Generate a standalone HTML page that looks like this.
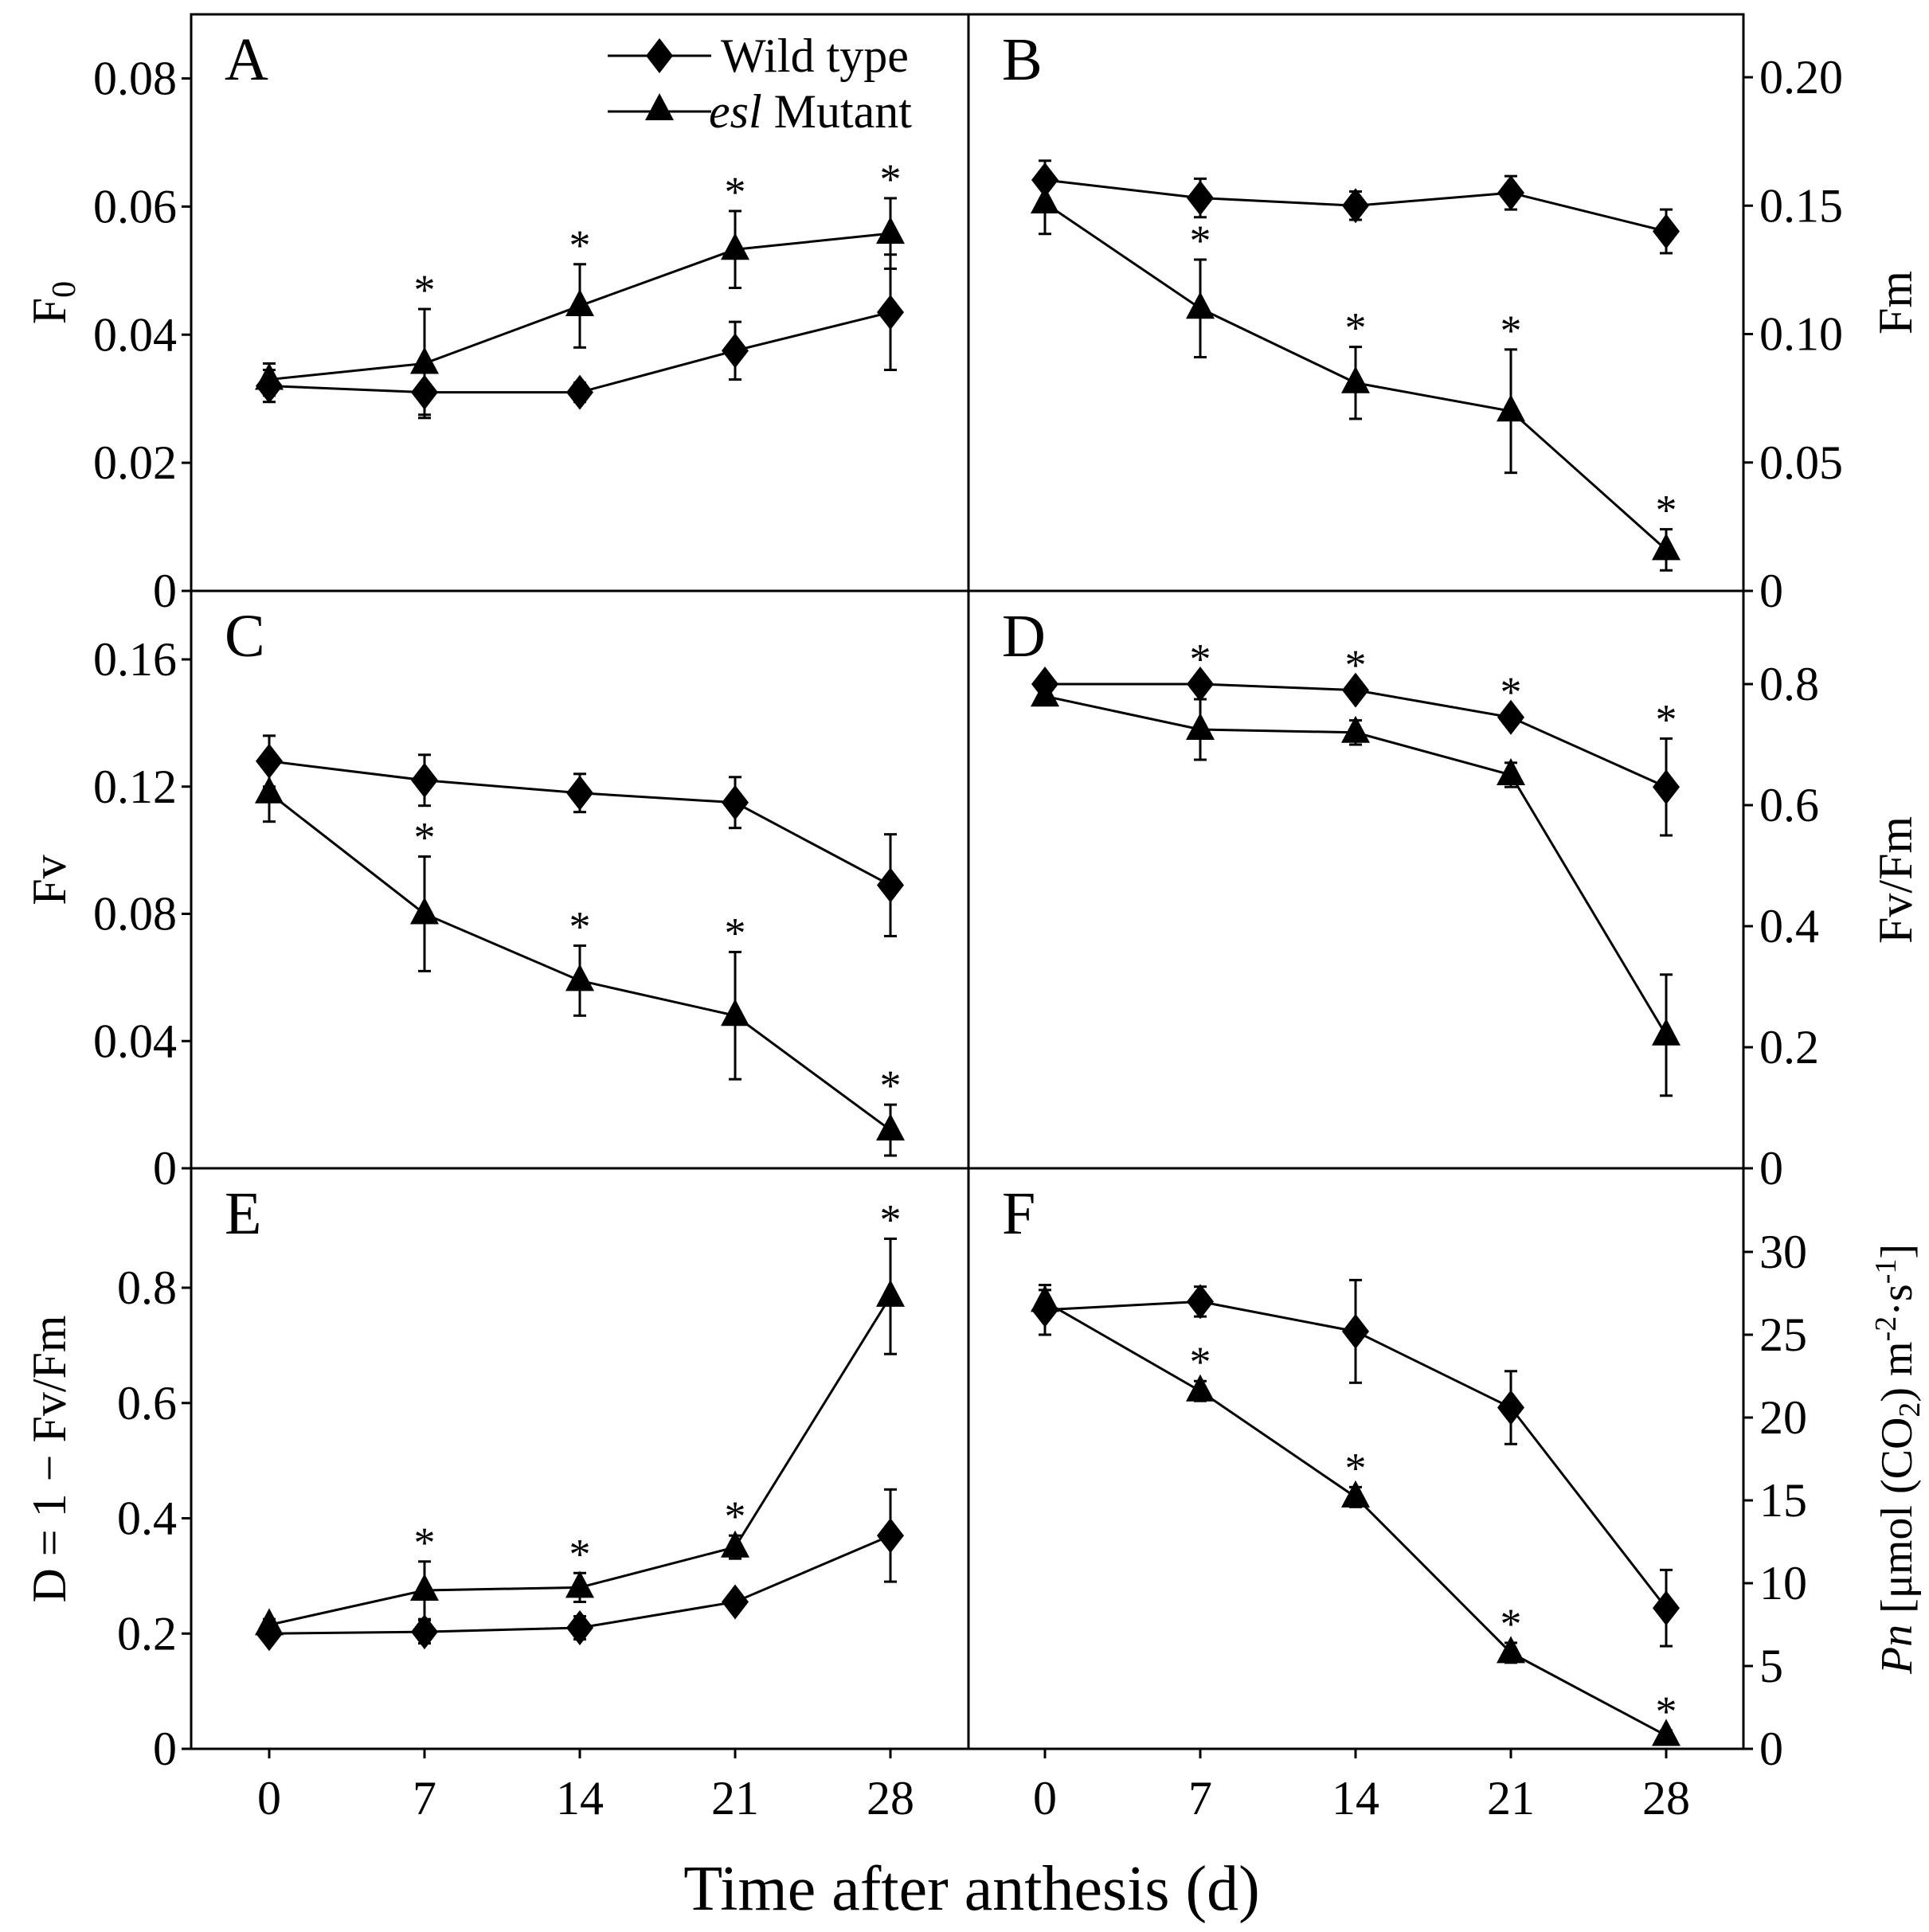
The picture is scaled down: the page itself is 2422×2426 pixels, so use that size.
<!DOCTYPE html>
<html><head><meta charset="utf-8"><style>
body{margin:0;background:#fff}
svg{display:block;font-family:"Liberation Serif",serif}
</style></head><body>
<svg id="chart" width="2422" height="2426" viewBox="0 0 2422 2426" xmlns="http://www.w3.org/2000/svg"></svg>
<script>
const days=[0,7,14,21,28];
const aWT=[0.032,0.031,0.031,0.0375,0.0435], aWTe=[0.0025,0.0035,0.0015,0.0045,0.009];
const aMU=[0.033,0.0355,0.0445,0.0533,0.0558], aMUe=[0.0025,0.0085,0.0065,0.006,0.0055];
const bWT=[0.160,0.153,0.150,0.155,0.140], bWTe=[0.0075,0.0075,0.0055,0.0065,0.0085];
const bMU=[0.151,0.110,0.081,0.070,0.016], bMUe=[0.012,0.019,0.014,0.024,0.008];
const cWT=[0.128,0.122,0.118,0.115,0.089], cWTe=[0.008,0.008,0.006,0.008,0.016];
const cMU=[0.118,0.080,0.059,0.048,0.012], cMUe=[0.009,0.018,0.011,0.020,0.008];
const dWT=[0.80,0.80,0.79,0.745,0.63], dWTe=[0.01,0.01,0.01,0.01,0.08];
const dMU=[0.78,0.725,0.72,0.65,0.22], dMUe=[0.01,0.05,0.02,0.02,0.1];
const eWT=[0.20,0.203,0.21,0.255,0.37], eWTe=[0.01,0.02,0.02,0.01,0.08];
const eMU=[0.215,0.275,0.28,0.35,0.785], eMUe=[0.01,0.05,0.025,0.02,0.1];
const fWT=[26.5,27,25.2,20.6,8.5], fWTe=[1.5,0.9,3.1,2.2,2.3];
const fMU=[27,21.6,15.2,5.8,0.8], fMUe=[0.7,0.6,0.6,0.6,0.3];
const aTicks=[0,0.02,0.04,0.06,0.08], bTicks=[0,0.05,0.10,0.15,0.20], cTicks=[0,0.04,0.08,0.12,0.16];
const dTicks=[0,0.2,0.4,0.6,0.8], eTicks=[0,0.2,0.4,0.6,0.8], fTicks=[0,5,10,15,20,25,30];
const aLab=["0","0.02","0.04","0.06","0.08"], bLab=["0","0.05","0.10","0.15","0.20"], cLab=["0","0.04","0.08","0.12","0.16"];
const dLab=["0","0.2","0.4","0.6","0.8"], eLab=["0","0.2","0.4","0.6","0.8"], fLab=["0","5","10","15","20","25","30"];

const svg=document.getElementById('chart');
const NS='http://www.w3.org/2000/svg';
function mk(t,a,p){const e=document.createElementNS(NS,t);for(const k in a)e.setAttribute(k,a[k]);(p||svg).appendChild(e);return e;}
const L=240,M=1216,R=2189;
const rowT=[18,742,1467], rowB=[742,1467,2196];
const FS=60;
const panels=[
 {id:'A',col:0,row:0,wt:aWT,wte:aWTe,mu:aMU,mue:aMUe,t:aTicks,lab:aLab,max:0.08,maxY:98.5,star:'mu'},
 {id:'B',col:1,row:0,wt:bWT,wte:bWTe,mu:bMU,mue:bMUe,t:bTicks,lab:bLab,max:0.20,maxY:97,star:'mu'},
 {id:'C',col:0,row:1,wt:cWT,wte:cWTe,mu:cMU,mue:cMUe,t:cTicks,lab:cLab,max:0.16,maxY:828,star:'mu'},
 {id:'D',col:1,row:1,wt:dWT,wte:dWTe,mu:dMU,mue:dMUe,t:dTicks,lab:dLab,max:0.8,maxY:859,star:'wt'},
 {id:'E',col:0,row:2,wt:eWT,wte:eWTe,mu:eMU,mue:eMUe,t:eTicks,lab:eLab,max:0.8,maxY:1617,star:'mu'},
 {id:'F',col:1,row:2,wt:fWT,wte:fWTe,mu:fMU,mue:fMUe,t:fTicks,lab:fLab,max:30,maxY:1572,star:'mu'}
];
panels.forEach(p=>{
 const g=mk('g',{});
 
 
 const x0=p.col?1312:338, bot=rowB[p.row];
 const xs=d=>x0+d*(195/7);
 const ys=v=>bot-v*(bot-p.maxY)/p.max;
 const fr=mk('rect',{x:p.col?M:L,y:rowT[p.row],width:p.col?R-M:M-L,height:bot-rowT[p.row],fill:'none',stroke:'#000','stroke-width':3},g);
 
 
 const lt=mk('text',{x:(p.col?M:L)+42,y:rowT[p.row]+82,'font-size':76},g);lt.textContent=p.id;
 
 
 p.t.forEach((v,i)=>{
  const y=ys(v);
  if(p.col){mk('line',{x1:R,x2:R+12,y1:y,y2:y,stroke:'#000','stroke-width':3},g);
   const t=mk('text',{x:R+20,y:y+20,'font-size':FS},g);t.textContent=p.lab[i];
   }
  else{mk('line',{x1:L,x2:L-12,y1:y,y2:y,stroke:'#000','stroke-width':3},g);
   const t=mk('text',{x:L-18,y:y+20,'font-size':FS,'text-anchor':'end'},g);t.textContent=p.lab[i];
   }
 });
 if(p.row==2){days.forEach(d=>{mk('line',{x1:xs(d),x2:xs(d),y1:bot,y2:bot+12,stroke:'#000','stroke-width':3},g);
  const t=mk('text',{x:xs(d),y:bot+82,'font-size':FS,'text-anchor':'middle'},g);t.textContent=d;
  });}
 [['wt',p.wt,p.wte],['mu',p.mu,p.mue]].forEach(([s,vals,errs])=>{
  const sg=mk('g',{},g);
  
  
  mk('polyline',{points:vals.map((v,i)=>xs(days[i])+','+ys(v)).join(' '),fill:'none',stroke:'#000','stroke-width':3},sg);
  vals.forEach((v,i)=>{
   const x=xs(days[i]),y=ys(v),yt=ys(v+errs[i]),yb=ys(Math.max(0,v-errs[i]));
   mk('line',{x1:x,x2:x,y1:yt,y2:yb,stroke:'#000','stroke-width':3},sg);
   mk('line',{x1:x-8,x2:x+8,y1:yt,y2:yt,stroke:'#000','stroke-width':3},sg);
   mk('line',{x1:x-8,x2:x+8,y1:yb,y2:yb,stroke:'#000','stroke-width':3},sg);
   let m;
   if(s==='wt')m=mk('polygon',{points:`${x},${y-22} ${x+17},${y} ${x},${y+22} ${x-17},${y}`,fill:'#000'},sg);
   else m=mk('polygon',{points:`${x},${y-21} ${x+18},${y+13} ${x-18},${y+13}`,fill:'#000'},sg);
   
   
   if(s===p.star&&i>0){const st=mk('text',{x:x,y:yt-6,'font-size':54,'text-anchor':'middle'},sg);st.textContent='*';
    }
  });
 });
});
function ytitle(x,y,html,name,fs){const t=mk('text',{transform:`translate(${x},${y}) rotate(-90)`,'font-size':fs||60,'text-anchor':'middle'});t.innerHTML=html;
 }
ytitle(82,380,'F<tspan font-size="42" dy="12">0</tspan>','y-axis-title-f0');
ytitle(82,1105,'Fv','y-axis-title-fv');
ytitle(82,1832,'D = 1 − Fv/Fm','y-axis-title-d');
ytitle(2400,380,'Fm','y-axis-title-fm');
ytitle(2400,1105,'Fv/Fm','y-axis-title-fvfm');
ytitle(2400,1832,'<tspan font-style="italic">Pn</tspan> [μmol (CO<tspan font-size="38" dy="10">2</tspan><tspan dy="-10">) m</tspan><tspan font-size="38" dy="-20">-2</tspan><tspan dy="20">·s</tspan><tspan font-size="38" dy="-20">-1</tspan><tspan dy="20">]</tspan>','y-axis-title-pn',56);
const xt=mk('text',{x:1220,y:2398,'font-size':80,'text-anchor':'middle'});xt.textContent='Time after anthesis (d)';

const lg=mk('g',{});


mk('line',{x1:763,x2:893,y1:70,y2:70,stroke:'#000','stroke-width':3},lg);
mk('polygon',{points:'828,48 845,70 828,92 811,70',fill:'#000'},lg);
mk('line',{x1:763,x2:893,y1:140,y2:140,stroke:'#000','stroke-width':3},lg);
mk('polygon',{points:'828,117 846,151 810,151',fill:'#000'},lg);
const l1=mk('text',{x:905,y:90,'font-size':60},lg);l1.textContent='Wild type';

const l2=mk('text',{x:890,y:160,'font-size':60},lg);l2.innerHTML='<tspan font-style="italic">esl</tspan> Mutant';

</script>
</body></html>
